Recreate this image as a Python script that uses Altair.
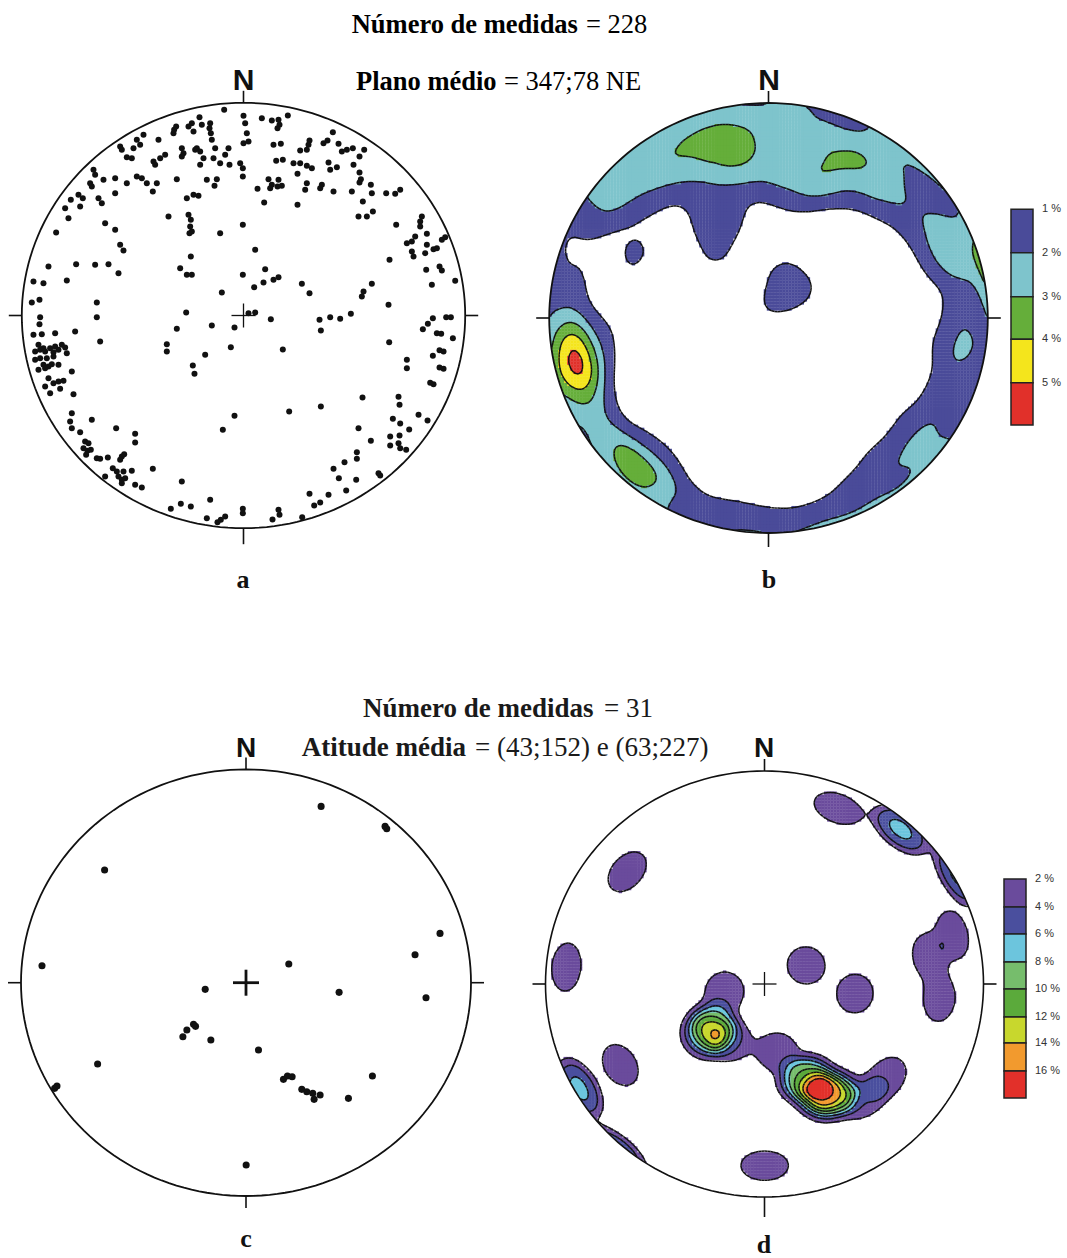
import numpy as np
import pandas as pd
import altair as alt

alt.data_transformers.disable_max_rows()

# ------------------------------------------------------------------
# DATA
# Panel a: poles to planes (equal-area, lower hemisphere). Dot centres as read on a
# reading grid whose primitive circle is centred at (730, 767), radii 665 (E-W) / 638 (N-S),
# with the reading y axis growing downward.
A_GRID = (730.0, 767.0, 665.0, 638.0)
A_NW = [(672,150),(598,172),(575,190),(565,200),(580,215),(605,195),(630,190),(628,205),(632,220),(635,240),(645,265),(640,295),(660,310),(688,315),(522,210),(528,200),(520,220),(430,225),(410,240),(420,255),(400,265),(360,260),(365,270),(380,292),(395,295),(475,240),(545,265),(550,280),(545,290),(590,265),(585,270),(600,275),(610,295),(600,315),(460,305),(465,315),(480,295),(495,285),(685,265),(675,285),(720,310),(728,325),(728,350),(280,330),(285,345),(270,370),(275,380),(310,360),(345,355),(380,370),(345,400),(410,350),(425,355),(440,370),(470,370),(530,358),(458,395),(620,360),(650,358),(643,378),(212,420),(235,405),(248,415),(240,440),(195,445),(205,475),(295,415),(305,430),(315,490),(345,510),(560,415),(580,405),(595,408),(505,470),(565,465),(572,480),(570,500),(568,520),(575,515),(660,520),(168,518),(360,555),(370,572),(572,590),(145,620),(228,613),(285,615),(325,613),(355,640),(540,625),(560,645),(575,645),(100,665),(130,670),(200,662),(665,698),(95,728),(118,720),(290,728),(290,772),(120,772),(558,758),(728,645),(728,495)]
A_NE = [(730,168),(735,190),(740,220),(730,250),(745,245),(785,175),(815,182),(835,180),(838,195),(832,205),(863,167),(820,255),(842,252),(828,303),(848,300),(998,217),(982,242),(970,250),(928,242),(925,255),(920,270),(900,272),(1015,252),(1040,270),(1058,265),(1025,275),(1092,270),(1078,290),(880,310),(900,310),(920,318),(935,325),(985,308),(1010,322),(990,330),(1060,315),(1078,338),(1082,358),(1078,368),(805,358),(815,375),(810,385),(835,360),(845,378),(832,380),(892,342),(920,370),(915,390),(960,385),(965,375),(1000,395),(1055,395),(1088,425),(1112,375),(1115,400),(1075,470),(1100,470),(1118,455),(772,387),(792,428),(892,435),(1158,400),(1185,402),(1200,390),(1188,495),(1265,470),(1260,485),(1260,500),(1220,550),(1235,545),(1245,530),(1280,522),(1280,555),(1275,580),(1235,575),(1240,590),(1300,568),(1310,565),(1325,540),(1335,532),(1168,600),(1278,630),(1318,620),(1325,632),(1295,675),(1365,663),(765,570),(795,628),(762,682),(790,668),(820,660),(835,652),(905,672),(928,700),(1090,695),(1085,710),(1115,672),(1165,735),(958,780),(990,772),(1020,777),(1052,762),(812,778),(1298,775),(1338,772),(1352,772),(745,760),(765,758)]
A_SW = [(118,793),(100,825),(125,823),(165,820),(225,815),(300,845),(530,807),(635,797),(703,803),(115,855),(130,865),(150,865),(165,860),(185,855),(195,863),(105,875),(120,870),(135,875),(160,877),(175,870),(200,880),(105,900),(120,895),(140,895),(160,890),(130,915),(145,920),(155,913),(175,915),(115,930),(135,925),(215,935),(145,955),(160,970),(175,965),(190,963),(135,980),(150,1000),(180,987),(220,1003),(500,853),(500,875),(692,862),(615,885),(578,917),(583,942),(215,1060),(210,1085),(215,1105),(240,1117),(275,1080),(348,1105),(405,1122),(405,1148),(255,1145),(265,1150),(250,1165),(262,1173),(272,1170),(258,1185),(290,1195),(300,1197),(323,1193),(365,1190),(372,1183),(360,1200),(338,1225),(350,1235),(370,1235),(395,1233),(315,1250),(355,1250),(365,1260),(375,1255),(365,1270),(405,1275),(425,1283),(458,1227),(545,1265),(703,1068),(668,1110),(512,1347),(542,1332),(572,1340),(630,1320),(620,1375),(652,1387),(662,1380),(675,1370),(728,1347),(728,1360)]
A_SE = [(848,869),(962,812),(1167,847),(1268,808),(1283,792),(1358,835),(1310,820),(1323,822),(1298,888),(1318,871),(1330,875),(1220,900),(1220,925),(1318,923),(1330,927),(1290,969),(1300,973),(1087,1013),(962,1040),(867,1055),(1195,1011),(1198,1035),(1255,1065),(1282,1082),(1178,1077),(1200,1091),(1227,1109),(1075,1105),(1170,1130),(1198,1127),(1170,1157),(1195,1150),(1200,1165),(1218,1170),(1112,1143),(1070,1177),(1070,1197),(1033,1207),(1000,1227),(1016,1255),(1038,1292),(1068,1260),(1135,1240),(1140,1247),(928,1302),(985,1305),(960,1328),(942,1337),(906,1372),(835,1350),(838,1365),(817,1379)]

# Panel c: 31 lineations, same projection; reading grid centre (737.5, 758), radii 675.5 / 640.
C_GRID = (737.5, 758.0, 675.5, 640.0)
C_PTS = [(963,229),(1155,289),(1160,296),(313,420),(1320,610),(1245,674),(125,707),(866,702),(615,778),(1017,787),(1278,803),(580,883),(586,889),(560,900),(548,920),(632,930),(775,960),(292,1002),(163,1075),(170,1068),(850,1048),(862,1038),(876,1040),(1117,1038),(905,1078),(920,1085),(938,1090),(942,1108),(960,1095),(1045,1105),(738,1305)]
C_COUNT = 31

B_LEVELS = [1, 2, 3, 4, 5]
B_COLORS = ["#4A4B99", "#7EC4CC", "#65AE3A", "#F4E51C", "#E1302A"]
B_LABELS = ["1 %", "2 %", "3 %", "4 %", "5 %"]
D_LEVELS = [2, 4, 6, 8, 10, 12, 14, 16]
D_COLORS = ["#6A4B9C", "#4A4F9E", "#6CC5DD", "#76BD6C", "#5BAA3B", "#C8D72D", "#F29A2E", "#E2302A"]
D_LABELS = ["2 %", "4 %", "6 %", "8 %", "10 %", "12 %", "14 %", "16 %"]

TITLE_TOP = [("Número de medidas", "= 228"), ("Plano médio", "= 347;78 NE")]
TITLE_BOT = [("Número de medidas", "= 31"), ("Atitude média", "= (43;152) e (63;227)")]


def read_to_unit(pairs, grid):
    cx, cy, rx, ry = grid
    arr = np.array(pairs, float)
    return (arr[:, 0] - cx) / rx, (cy - arr[:, 1]) / ry


ax_, ay_ = read_to_unit(A_NW + A_NE + A_SW + A_SE, A_GRID)
cx_, cy_ = read_to_unit(C_PTS, C_GRID)

# ------------------------------------------------------------------
# density: points counted in a (soft-edged) cap, antipodal, expressed per 1 % of area
H_GRID = 0.014
GX = np.arange(-1.05, 1.05 + 1e-9, H_GRID)


def unit_vectors(x, y):
    r = np.hypot(x, y)
    rc = np.minimum(r, 1.0)
    theta = 2.0 * np.arcsin(rc / np.sqrt(2.0))
    az = np.arctan2(x, y)
    s = np.sin(theta)
    return np.stack([s * np.sin(az), s * np.cos(az), -np.cos(theta)], axis=-1)


def density_grid(px, py, cap, soft, per_area, n_norm):
    XX, YY = np.meshgrid(GX, GX)
    G = unit_vectors(XX.ravel(), YY.ravel())
    P = unit_vectors(px, py)
    out = np.zeros(G.shape[0])
    for s in range(0, G.shape[0], 3000):
        c = np.abs(G[s:s + 3000] @ P.T)
        ang = np.degrees(np.arccos(np.clip(c, 0, 1)))
        out[s:s + 3000] = (1.0 / (1.0 + np.exp((ang - cap) / soft))).sum(axis=1)
    scale = 0.01 / (1 - np.cos(np.radians(cap))) if per_area else 1.0
    return XX, YY, (100.0 * out * scale / n_norm).reshape(XX.shape)


def isolines(xs, ys, V, level):
    segs = []
    above = V >= level
    a = above[:-1, :-1]; b = above[:-1, 1:]; c = above[1:, 1:]; d = above[1:, :-1]
    mixed = ~((a == b) & (b == c) & (c == d))
    for j, i in np.argwhere(mixed):
        va, vb, vc, vd = V[j, i], V[j, i + 1], V[j + 1, i + 1], V[j + 1, i]
        x0, x1, y0, y1 = xs[i], xs[i + 1], ys[j], ys[j + 1]
        pts = {}
        if (va >= level) != (vb >= level):
            t = (level - va) / (vb - va); pts[0] = (x0 + t * (x1 - x0), y0)
        if (vb >= level) != (vc >= level):
            t = (level - vb) / (vc - vb); pts[1] = (x1, y0 + t * (y1 - y0))
        if (vd >= level) != (vc >= level):
            t = (level - vd) / (vc - vd); pts[2] = (x0 + t * (x1 - x0), y1)
        if (va >= level) != (vd >= level):
            t = (level - va) / (vd - va); pts[3] = (x0, y0 + t * (y1 - y0))
        keys = sorted(pts)
        if len(keys) == 2:
            pairs = [(keys[0], keys[1])]
        else:
            if ((va + vb + vc + vd) / 4 >= level) == (va >= level):
                pairs = [(0, 1), (2, 3)]
            else:
                pairs = [(0, 3), (1, 2)]
        for p_, q_ in pairs:
            segs.append((pts[p_][0], pts[p_][1], pts[q_][0], pts[q_][1]))
    return segs


# ------------------------------------------------------------------
class Panel:
    def __init__(self, cx, cy, rx, ry, x0, y0, w, h):
        self.cx, self.cy, self.rx, self.ry = cx, cy, rx, ry
        self.x0, self.y0, self.w, self.h = x0, y0, w, h

    def ux(self, px):
        return (np.asarray(px, float) - self.cx) / self.rx

    def uy(self, py):
        return (self.cy - np.asarray(py, float)) / self.ry

    def X(self, f):
        return alt.X(f, type="quantitative", axis=None,
                     scale=alt.Scale(domain=[float(self.ux(self.x0)), float(self.ux(self.x0 + self.w))], nice=False, zero=False))

    def Y(self, f):
        return alt.Y(f, type="quantitative", axis=None,
                     scale=alt.Scale(domain=[float(self.uy(self.y0 + self.h)), float(self.uy(self.y0))], nice=False, zero=False))


def texts(p, items, **mk):
    df = pd.DataFrame(items, columns=["px", "py", "t"])
    df["x"] = p.ux(df["px"]); df["y"] = p.uy(df["py"])
    mk.setdefault("baseline", "alphabetic")
    return alt.Chart(df[["x", "y", "t"]]).mark_text(**mk).encode(x=p.X("x"), y=p.Y("y"), text="t:N")


def rules(p, df, **mk):
    return alt.Chart(df).mark_rule(**mk).encode(x=p.X("x"), y=p.Y("y"), x2="x2:Q", y2="y2:Q")


def outline(p, grow_px, color, width):
    fx = 1 + grow_px / p.rx
    fy = 1 + grow_px / p.ry
    return (alt.Chart(alt.sequence(0, 362, 2, as_="deg"))
            .transform_calculate(ex=f"{fx}*cos(datum.deg*PI/180)", ey=f"{fy}*sin(datum.deg*PI/180)")
            .mark_line(color=color, strokeWidth=width)
            .encode(x=p.X("ex"), y=p.Y("ey"), order="deg:Q"))


def ticks(p, s_len):
    df = pd.DataFrame([(-1 - 13 / p.rx, 0, -1, 0), (1, 0, 1 + 13 / p.rx, 0),
                       (0, 1, 0, 1 + 12 / p.ry), (0, -1, 0, -1 - s_len / p.ry)],
                      columns=["x", "y", "x2", "y2"])
    return rules(p, df, color="#111", strokeWidth=1.6)


def cross(p, arm, width):
    df = pd.DataFrame([(-arm / p.rx, 0, arm / p.rx, 0), (0, -arm / p.ry, 0, arm / p.ry)],
                      columns=["x", "y", "x2", "y2"])
    return rules(p, df, color="#111", strokeWidth=width)


def points(p, x, y, size):
    df = pd.DataFrame({"x": np.round(x, 4), "y": np.round(y, 4)})
    return alt.Chart(df).mark_circle(color="#111", opacity=1, size=size).encode(x=p.X("x"), y=p.Y("y"))


def density_layers(p, px, py, levels, colors, cap, soft, per_area, n_norm):
    XX, YY, V = density_grid(px, py, cap, soft, per_area, n_norm)
    k = np.searchsorted(levels, V, side="right") - 1
    m = (k >= 0) & (np.hypot(XX, YY) <= 1 + 0.8 * H_GRID)
    hh = 0.56 * H_GRID
    cells = pd.DataFrame({"x": XX[m] - hh, "x2": XX[m] + hh, "y": YY[m] - hh, "y2": YY[m] + hh,
                          "c": np.array(colors)[k[m]]}).round(4)
    fill = alt.Chart(cells).mark_rect(strokeWidth=0).encode(
        x=p.X("x"), x2="x2:Q", y=p.Y("y"), y2="y2:Q", color=alt.Color("c:N", scale=None))
    segs = []
    for L in levels:
        segs += isolines(GX, GX, V, L)
    sdf = pd.DataFrame(segs, columns=["x", "y", "x2", "y2"])
    keep = (np.hypot(sdf.x, sdf.y) <= 1.04) & (np.hypot(sdf.x2, sdf.y2) <= 1.04)
    lines = rules(p, sdf[keep].round(4), color="#111", strokeWidth=1.5)
    return [fill, lines]


def legend(p, px0, px1, bounds_py, colors, labels, label_px):
    ys = p.uy(bounds_py)
    box = pd.DataFrame({"x": float(p.ux(px0)), "x2": float(p.ux(px1)), "y": ys[1:], "y2": ys[:-1], "c": colors})
    boxes = alt.Chart(box).mark_rect(stroke="#222", strokeWidth=1.5).encode(
        x=p.X("x"), x2="x2:Q", y=p.Y("y"), y2="y2:Q", color=alt.Color("c:N", scale=None))
    lab = texts(p, [(label_px, b, t) for b, t in zip(bounds_py, labels)],
                align="left", baseline="middle", font="Liberation Sans", fontSize=11, color="#333")
    return [boxes, lab]


SERIF = "Liberation Serif"
SANS = "Liberation Sans"

pa = Panel(243.5, 315.5, 221.7, 212.7, 0, 0, 533, 629)
pb = Panel(768.5, 318.0, 219.3, 215.0, 533, 0, 534, 629)
pc = Panel(246.0, 982.7, 225.0, 213.3, 0, 629, 533, 629)
pd_ = Panel(764.5, 984.0, 219.0, 213.0, 533, 629, 534, 629)

# ---- panel a
layers_a = [
    outline(pa, 0, "#111", 1.8),
    points(pa, ax_, ay_, 36),
    ticks(pa, 16),
    cross(pa, 12, 1.3),
    texts(pa, [(243.5, 90, "N")], align="center", font=SANS, fontWeight="bold", fontSize=30, color="#111"),
    texts(pa, [(243, 588, "a")], align="center", font=SERIF, fontWeight="bold", fontSize=26, color="#111"),
    texts(pa, [(351.7, 33, TITLE_TOP[0][0]), (356, 89.5, TITLE_TOP[1][0])],
          align="left", font=SERIF, fontWeight="bold", fontSize=26.5, color="#000"),
    texts(pa, [(586, 33, TITLE_TOP[0][1]), (504, 89.5, TITLE_TOP[1][1])],
          align="left", font=SERIF, fontSize=26.5, color="#000"),
]
chart_a = alt.layer(*layers_a).properties(width=pa.w, height=pa.h)

# ---- panel b
layers_b = density_layers(pb, ax_, ay_, B_LEVELS, B_COLORS, cap=10.0, soft=2.5, per_area=True, n_norm=345) + [
    outline(pb, 7, "white", 14),
    outline(pb, 0, "#111", 1.8),
    ticks(pb, 14),
    texts(pb, [(769, 89.5, "N")], align="center", font=SANS, fontWeight="bold", fontSize=30, color="#111"),
    texts(pb, [(769, 588, "b")], align="center", font=SERIF, fontWeight="bold", fontSize=26, color="#111"),
] + legend(pb, 1011, 1033, [209.3, 252.7, 296.7, 339.3, 382.7, 425.0], B_COLORS, B_LABELS, 1042)
chart_b = alt.layer(*layers_b).properties(width=pb.w, height=pb.h)

# ---- panel c
layers_c = [
    outline(pc, 0, "#111", 1.8),
    points(pc, cx_, cy_, 50),
    ticks(pc, 12),
    cross(pc, 13, 2.8),
    texts(pc, [(246, 756.7, "N")], align="center", font=SANS, fontWeight="bold", fontSize=28, color="#111"),
    texts(pc, [(246, 1247, "c")], align="center", font=SERIF, fontWeight="bold", fontSize=26, color="#111"),
    texts(pc, [(363, 717, TITLE_BOT[0][0]), (301.7, 756, TITLE_BOT[1][0])],
          align="left", font=SERIF, fontWeight="bold", fontSize=27, color="#1a1a1a"),
    texts(pc, [(604, 717, TITLE_BOT[0][1]), (475, 756, TITLE_BOT[1][1])],
          align="left", font=SERIF, fontSize=27, color="#1a1a1a"),
]
chart_c = alt.layer(*layers_c).properties(width=pc.w, height=pc.h)

# ---- panel d
layers_d = density_layers(pd_, cx_, cy_, D_LEVELS, D_COLORS, cap=7.8, soft=1.6, per_area=False, n_norm=C_COUNT) + [
    outline(pd_, 7, "white", 14),
    outline(pd_, 0, "#111", 1.6),
    ticks(pd_, 20),
    cross(pd_, 12, 1.3),
    texts(pd_, [(764, 756.7, "N")], align="center", font=SANS, fontWeight="bold", fontSize=28, color="#111"),
    texts(pd_, [(764, 1253, "d")], align="center", font=SERIF, fontWeight="bold", fontSize=26, color="#111"),
] + legend(pd_, 1004, 1026, [879, 907, 934, 962, 989, 1017, 1043, 1071, 1098], D_COLORS, D_LABELS, 1035)
chart_d = alt.layer(*layers_d).properties(width=pd_.w, height=pd_.h)

chart = (alt.concat(chart_a, chart_b, chart_c, chart_d, columns=2, spacing=0, bounds="flush")
         .properties(padding=0, background="white")
         .configure_view(stroke=None))

chart.save("out.html", embed_options={"renderer": "svg", "actions": False})
